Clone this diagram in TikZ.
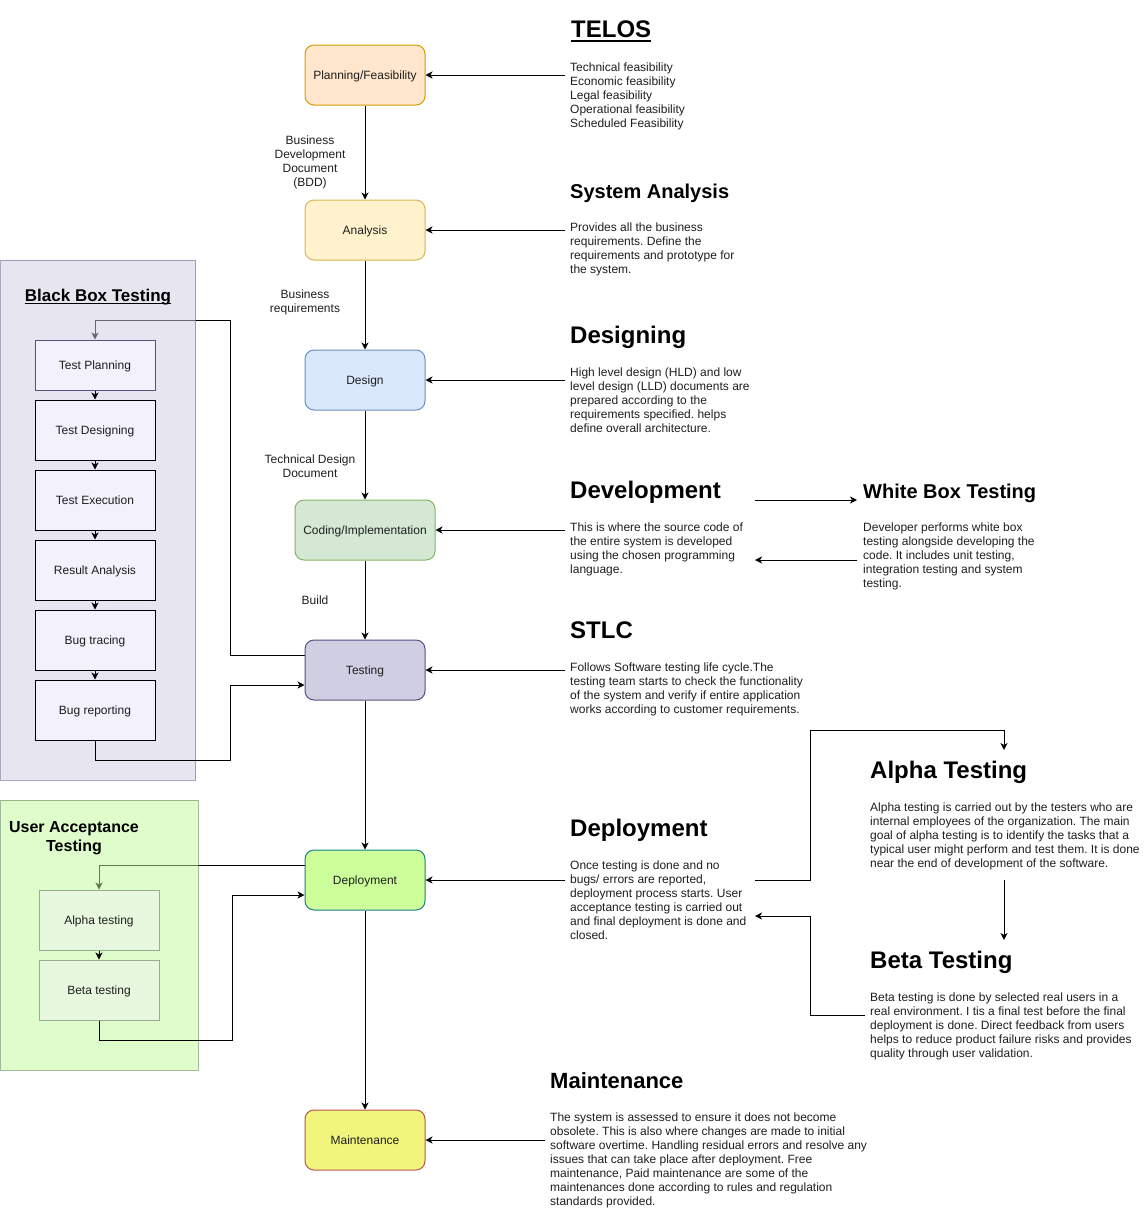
\documentclass[tikz,border=0pt]{standalone}
\usepackage{fontspec}
\setmainfont{Liberation Sans}
\usetikzlibrary{arrows.meta}
\pgfdeclarelayer{lower}
\pgfdeclarelayer{panel}
\pgfsetlayers{lower,panel,main}
\frenchspacing

\definecolor{txt}{HTML}{1E1E1E}
\definecolor{planF}{HTML}{FFE6CC}\definecolor{planD}{HTML}{D79B00}
\definecolor{anaF}{HTML}{FFF2CC}\definecolor{anaD}{HTML}{D6B656}
\definecolor{desF}{HTML}{DAE8FC}\definecolor{desD}{HTML}{6C8EBF}
\definecolor{codF}{HTML}{D5E8D4}\definecolor{codD}{HTML}{82B366}
\definecolor{tstF}{HTML}{D0CEE2}\definecolor{tstD}{HTML}{56517E}
\definecolor{depF}{HTML}{CCFF99}\definecolor{depD}{HTML}{1A7F86}
\definecolor{mntF}{HTML}{F2F57C}\definecolor{mntD}{HTML}{B85450}
\definecolor{bbPanel}{HTML}{D0CEE2}\definecolor{bbEdge}{HTML}{56517E}
\definecolor{bbStep}{HTML}{F2F1FC}
\definecolor{uaPanel}{HTML}{BDFB95}\definecolor{uaEdge}{HTML}{4D7040}
\definecolor{uaStep}{HTML}{E8F8DF}\definecolor{uaStepD}{HTML}{9AAB93}

\begin{document}
\begin{tikzpicture}[x=1pt,y=-1pt,
  base/.style={font=\fontsize{12}{14}\selectfont, text=txt},
  boxtext/.style={base, text height=11pt, text depth=2.5pt},
  stage/.style={boxtext, draw, line width=1pt, rounded corners=9pt,
    minimum width=120pt, minimum height=60pt, inner sep=2pt},
  bbstep/.style={boxtext, draw=black, fill=bbStep, line width=1pt,
    minimum width=120pt, minimum height=60pt, inner sep=2pt},
  uastep/.style={boxtext, draw=uaStepD, fill=uaStep, line width=1pt,
    minimum width=120pt, minimum height=60pt, inner sep=2pt},
  conn/.style={draw=black, line width=1pt,
    -{Stealth[length=7pt,width=7pt,inset=2pt]}},
  head/.style={font=\bfseries\fontsize{24}{28}\selectfont, text=black,
    anchor=base west, inner sep=0pt},
  body/.style={base, align=left, anchor=north west,
    inner xsep=5pt, inner ysep=0pt},
  elabel/.style={base, align=center, anchor=north, inner sep=0pt},
]
\useasboundingbox (0,0) rectangle (1144,1221);

% ---------- side panels (half transparent, lines behind them show through)
\begin{pgfonlayer}{panel}
  \node[draw=bbEdge, fill=bbPanel, fill opacity=0.5, draw opacity=0.5,
    line width=1pt, minimum width=195pt, minimum height=520pt,
    inner sep=0pt] (bbpanel) at (98,520) {};
  \node[draw=uaEdge, fill=uaPanel, fill opacity=0.5, draw opacity=0.5,
    line width=1pt, minimum width=197.5pt, minimum height=270pt,
    inner sep=0pt] (uapanel) at (99.25,935) {};
\end{pgfonlayer}

\node[font=\bfseries\fontsize{17}{20}\selectfont, anchor=base, inner sep=0pt]
  (bbtitle) at (98,301.5) {Black Box Testing};
\draw[line width=1.3pt] ([yshift=-2.3pt]bbtitle.base west) -- ([yshift=-2.3pt]bbtitle.base east);

\node[font=\bfseries\fontsize{16}{19}\selectfont, align=center, anchor=north,
  inner sep=0pt] (uatitle) at (74,818.7) {\strut User Acceptance\\Testing};

% ---------- life cycle stages
\node[stage, draw=planD, fill=planF] (plan)    at (365,75)   {Planning/Feasibility};
\node[stage, draw=anaD,  fill=anaF]  (ana)     at (365,230)  {Analysis};
\node[stage, draw=desD,  fill=desF]  (design)  at (365,380)  {Design};
\node[stage, draw=codD,  fill=codF, minimum width=140pt] (coding) at (365,530) {Coding/Implementation};
\node[stage, draw=tstD,  fill=tstF]  (testing) at (365,670)  {Testing};
\node[stage, draw=depD,  fill=depF]  (deploy)  at (365,880)  {Deployment};
\node[stage, draw=mntD,  fill=mntF]  (maint)   at (365,1140) {Maintenance};

% ---------- black box testing steps
\node[bbstep, draw=tstD, minimum height=50pt] (tplan) at (95,365) {Test Planning};
\node[bbstep] (tdes)   at (95,430) {Test Designing};
\node[bbstep] (texec)  at (95,500) {Test Execution};
\node[bbstep] (ranal)  at (95,570) {Result Analysis};
\node[bbstep] (btrace) at (95,640) {Bug tracing};
\node[bbstep] (brep)   at (95,710) {Bug reporting};

% ---------- user acceptance steps
\node[uastep] (alpha) at (99,920) {Alpha testing};
\node[uastep] (beta)  at (99,990) {Beta testing};

% ---------- descriptions
\node[head] (telos) at (571,37.5) {TELOS};
\draw[line width=2pt] ([yshift=-3.5pt]telos.base west) -- ([yshift=-3.5pt]telos.base east);
\node[body] (telosb) at (565,61.2) {\strut Technical feasibility\\Economic feasibility\\Legal feasibility\\Operational feasibility\\Scheduled Feasibility};

\node[head, font=\bfseries\fontsize{20}{24}\selectfont] (sah) at (570,198) {System Analysis};
\node[body] (sab) at (565,221.2) {\strut Provides all the business\\requirements. Define the\\requirements and prototype for\\the system.};

\node[head] (dsh) at (570,343.5) {Designing};
\node[body] (dsb) at (565,366.2) {\strut High level design (HLD) and low\\level design (LLD) documents are\\prepared according to the\\requirements specified. helps\\define overall architecture.};

\node[head] (dvh) at (570,498.5) {Development};
\node[body] (dvb) at (565,521.2) {\strut This is where the source code of\\the entire system is developed\\using the chosen programming\\language.};

\node[head, font=\bfseries\fontsize{20}{24}\selectfont] (wbh) at (863,498) {White Box Testing};
\node[body] (wbb) at (858,521.2) {\strut Developer performs white box\\testing alongside developing the\\code. It includes unit testing,\\integration testing and system\\testing.};

\node[head] (sth) at (570,638.5) {STLC};
\node[body] (stb) at (565,661.2) {\strut Follows Software testing life cycle.The\\testing team starts to check the functionality\\of the system and verify if entire application\\works according to customer requirements.};

\node[head] (dph) at (570,836.5) {Deployment};
\node[body] (dpb) at (565,859.2) {\strut Once testing is done and no\\bugs/ errors are reported,\\deployment process starts. User\\acceptance testing is carried out\\and final deployment is done and\\closed.};

\node[head] (alh) at (870,778.5) {Alpha Testing};
\node[body] (alb) at (865,801.2) {\strut Alpha testing is carried out by the testers who are\\internal employees of the organization. The main\\goal of alpha testing is to identify the tasks that a\\typical user might perform and test them. It is done\\near the end of development of the software.};

\node[head] (beh) at (870,968.5) {Beta Testing};
\node[body] (beb) at (865,991.2) {\strut Beta testing is done by selected real users in a\\real environment. I tis a final test before the final\\deployment is done. Direct feedback from users\\helps to reduce product failure risks and provides\\quality through user validation.};

\node[head, font=\bfseries\fontsize{22}{26}\selectfont] (mnh) at (550,1088) {Maintenance};
\node[body] (mnb) at (545,1111.2) {\strut The system is assessed to ensure it does not become\\obsolete. This is also where changes are made to initial\\software overtime. Handling residual errors and resolve any\\issues that can take place after deployment. Free\\maintenance, Paid maintenance are some of the\\maintenances done according to rules and regulation\\standards provided.};

% ---------- edge labels
\node[elabel] (l1) at (310,134.7) {\strut Business\\Development\\Document\\(BDD)};
\node[elabel] (l2) at (305,288.7) {\strut Business\\requirements};
\node[elabel] (l3) at (310,453.7) {\strut Technical Design\\Document};
\node[base, anchor=base, inner sep=0pt] (l4) at (315,604.5) {Build};

% ---------- main flow
\draw[conn] (plan.south)    -- (ana.north);
\draw[conn] (ana.south)     -- (design.north);
\draw[conn] (design.south)  -- (coding.north);
\draw[conn] (coding.south)  -- (testing.north);
\draw[conn] (testing.south) -- (deploy.north);
\draw[conn] (deploy.south)  -- (maint.north);

% ---------- descriptions feeding the stages
\draw[conn] (telosb.west |- plan.east) -- (plan.east);
\draw[conn] (sab.west |- ana.east)     -- (ana.east);
\draw[conn] (dsb.west |- design.east)  -- (design.east);
\draw[conn] (dvb.west |- coding.east)  -- (coding.east);
\draw[conn] (stb.west |- testing.east) -- (testing.east);
\draw[conn] (dpb.west |- deploy.east)  -- (deploy.east);
\draw[conn] (mnb.west |- maint.east)   -- (maint.east);

% ---------- white box loop
\coordinate (dvout) at (755,500);
\coordinate (wbin)  at (857,500);
\coordinate (wbout) at (857,560);
\coordinate (dvin)  at (755,560);
\draw[conn] (dvout) -- (wbin);
\draw[conn] (wbout) -- (dvin);

% ---------- alpha / beta loop
\coordinate (dpout) at (755,880);
\coordinate (dpup)  at (810,730);
\coordinate (alin)  at (1004,750);
\coordinate (alout) at (1004,880);
\coordinate (bein)  at (1004,940);
\coordinate (beout) at (865,1015);
\coordinate (dpdn)  at (810,916);
\coordinate (dpin)  at (755,916);
\draw[conn] (dpout) -| (dpup) -| (alin);
\draw[conn] (alout) -- (bein);
\draw[conn] (beout) -| (dpdn) -- (dpin);

% ---------- black box steps
\draw[conn] (tplan.south)  -- (tdes.north);
\draw[conn] (tdes.south)   -- (texec.north);
\draw[conn] (texec.south)  -- (ranal.north);
\draw[conn] (ranal.south)  -- (btrace.north);
\draw[conn] (btrace.south) -- (brep.north);
\coordinate (bbtop) at (230,320);
\coordinate (bbbot) at (230,760);
\draw[conn] (brep.south) |- (bbbot) |- ([yshift=-15pt]testing.west);

% ---------- user acceptance steps
\draw[conn] (alpha.south) -- (beta.north);
\coordinate (uabot) at (232,1040);
\draw[conn] (beta.south) |- (uabot) |- ([yshift=-15pt]deploy.west);

% ---------- lines passing under the panels
\begin{pgfonlayer}{lower}
  \draw[conn] ([yshift=15pt]testing.west) -| (bbtop) -| (tplan.north);
  \draw[conn] ([yshift=15pt]deploy.west) -| (alpha.north);
\end{pgfonlayer}
\end{tikzpicture}
\end{document}
